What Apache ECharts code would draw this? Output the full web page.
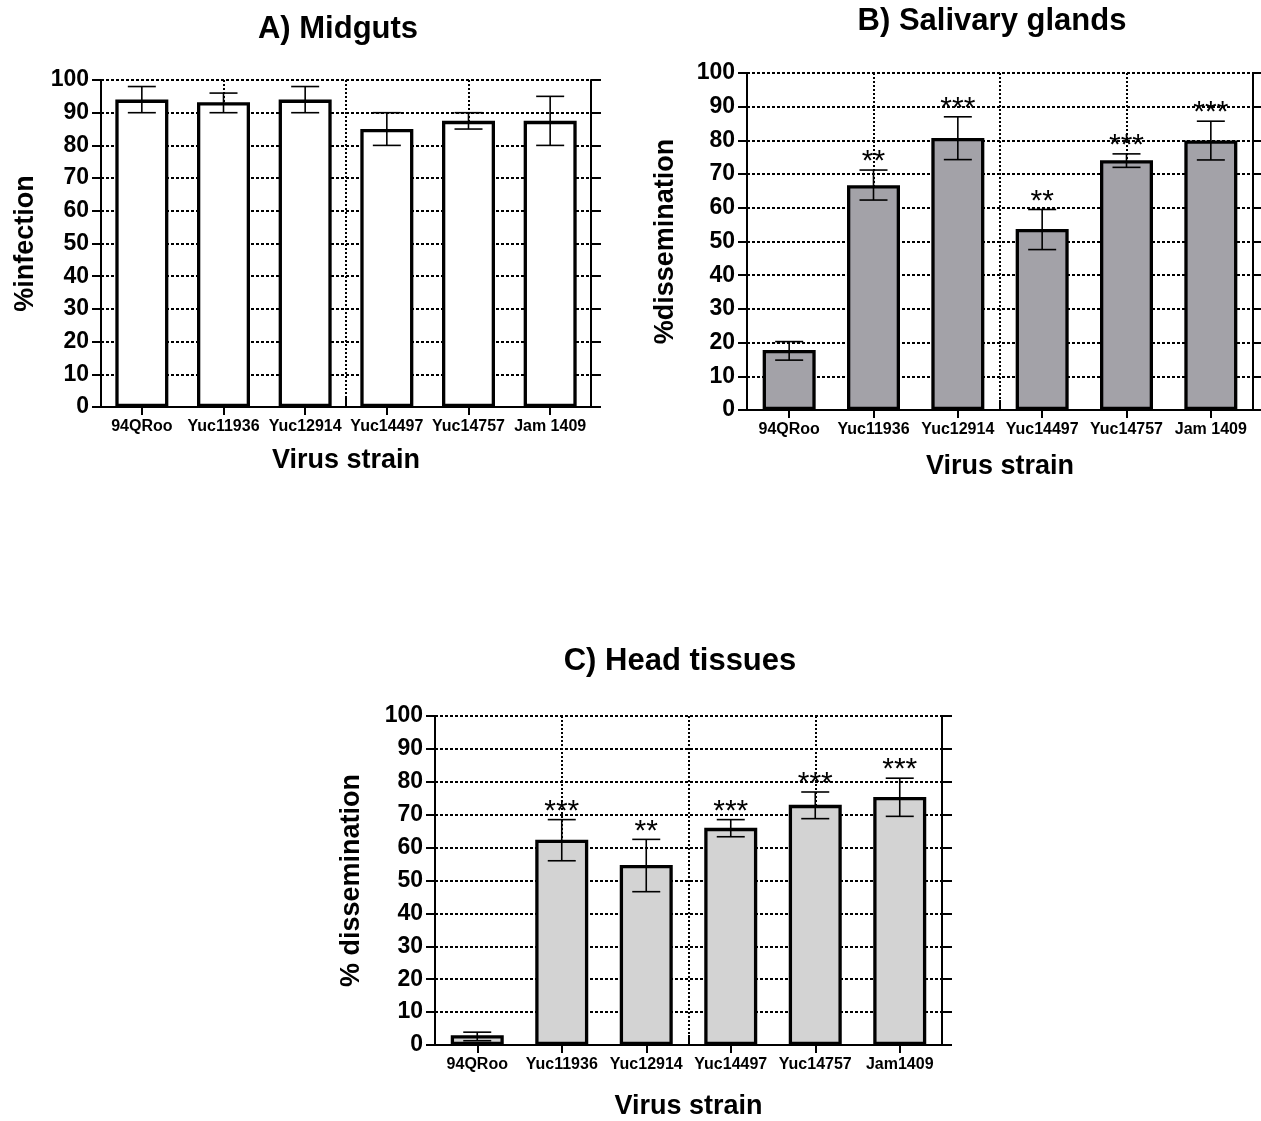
<!DOCTYPE html>
<html>
<head>
<meta charset="utf-8">
<script src="https://cdn.jsdelivr.net/npm/echarts@6.0.0/dist/echarts.min.js"></script>
<style>
  html, body { margin: 0; padding: 0; background: #fff; }
  #chart { width: 1261px; height: 1121px; }
</style>
</head>
<body>
<div id="chart"></div>
<script>
// categories
var strainsAB = ['94QRoo', 'Yuc11936', 'Yuc12914', 'Yuc14497', 'Yuc14757', 'Jam 1409'];
var strainsC = ['94QRoo', 'Yuc11936', 'Yuc12914', 'Yuc14497', 'Yuc14757', 'Jam1409'];

// A) midguts - % infection
var midgutMean = [94, 93.2, 94, 85, 87.5, 87.5];
var midgutLow = [90, 90, 90, 80, 85, 80];
var midgutHigh = [98, 96, 98, 90, 90, 95];
var midgutStars = ['', '', '', '', '', ''];

// B) salivary glands - % dissemination
var salivaMean = [17.8, 66.7, 80.7, 53.7, 74.1, 80];
var salivaLow = [14.8, 62.3, 74.3, 47.6, 72, 74.2];
var salivaHigh = [20.3, 71.2, 87, 59.5, 76, 85.7];
var salivaStars = ['', '**', '***', '**', '***', '***'];

// C) head tissues - % dissemination
var headMean = [3, 62.4, 54.7, 66, 73, 75.4];
var headLow = [1.3, 56, 46.6, 63.3, 68.8, 69.5];
var headHigh = [3.9, 68.5, 62.5, 68.5, 76.9, 81.1];
var headStars = ['', '***', '**', '***', '***', '***'];

// y scale
var yMin = 0, yMax = 100, yStep = 10;

var FONT = 'Liberation Sans, Arial, sans-serif';

var panels = [
  { title: 'A) Midguts', yName: '%infection', cats: strainsAB, mean: midgutMean, low: midgutLow, high: midgutHigh, stars: midgutStars,
    fill: '#ffffff', grid: { left: 101, top: 80, width: 490, height: 327 }, titleX: 338, titleY: 29, yGap: 62, xGap: 40 },
  { title: 'B) Salivary glands', yName: '%dissemination', cats: strainsAB, mean: salivaMean, low: salivaLow, high: salivaHigh, stars: salivaStars,
    fill: '#a3a2a8', grid: { left: 747, top: 73, width: 506, height: 337 }, titleX: 992, titleY: 21, yGap: 68, xGap: 43 },
  { title: 'C) Head tissues', yName: '% dissemination', cats: strainsC, mean: headMean, low: headLow, high: headHigh, stars: headStars,
    fill: '#d3d3d3', grid: { left: 435, top: 716, width: 507, height: 338 }, titleX: 680, titleY: 661, yGap: 70, xGap: 48 }
];

function errItem(p) {
  return function (params, api) {
    var i = api.value(0);
    var top = api.coord([i, p.high[i]]);
    var bot = api.coord([i, p.low[i]]);
    var half = 14;
    var st = { stroke: '#000', lineWidth: 1.6 };
    var kids = [
      { type: 'line', shape: { x1: top[0], y1: top[1], x2: bot[0], y2: bot[1] }, style: st },
      { type: 'line', shape: { x1: top[0] - half, y1: top[1], x2: top[0] + half, y2: top[1] }, style: st },
      { type: 'line', shape: { x1: bot[0] - half, y1: bot[1], x2: bot[0] + half, y2: bot[1] }, style: st }
    ];
    if (p.stars[i]) {
      kids.push({
        type: 'text', x: top[0], y: top[1] - 8,
        style: { text: p.stars[i], fill: '#000', font: 'normal 30px ' + FONT,
          textAlign: 'center', textVerticalAlign: 'middle', align: 'center', verticalAlign: 'middle' }
      });
    }
    return { type: 'group', children: kids };
  };
}

var grids = [], xAxes = [], yAxes = [], series = [], graphics = [];

panels.forEach(function (p, k) {
  grids.push(p.grid);
  var axLine = { show: true, lineStyle: { color: '#000', width: 2 } };
  // bottom category axis
  xAxes.push({
    type: 'category', gridIndex: k, data: p.cats, position: 'bottom',
    axisLine: axLine,
    axisTick: { show: true, alignWithLabel: true, length: 8, lineStyle: { color: '#000', width: 2 } },
    axisLabel: { color: '#000', fontFamily: FONT, fontWeight: 'bold', fontSize: 16, margin: 12, interval: 0 },
    name: 'Virus strain', nameLocation: 'middle', nameGap: p.xGap,
    nameTextStyle: { color: '#000', fontFamily: FONT, fontWeight: 'bold', fontSize: 27 },
    splitLine: { show: false }
  });
  // top frame with vertical dotted lines at quarters
  xAxes.push({
    type: 'value', gridIndex: k, position: 'top', min: 0, max: 4, interval: 1,
    axisLine: axLine,
    axisTick: { show: true, length: 10, lineStyle: { color: '#000', width: 2 } },
    axisLabel: { show: false },
    splitLine: { show: true, lineStyle: { color: '#000', width: 2, type: [2, 2] } }
  });
  // left value axis
  yAxes.push({
    type: 'value', gridIndex: k, position: 'left', min: yMin, max: yMax, interval: yStep,
    axisLine: axLine,
    axisTick: { show: true, length: 9, lineStyle: { color: '#000', width: 2 } },
    axisLabel: { color: '#000', fontFamily: FONT, fontWeight: 'bold', fontSize: 23, margin: 12 },
    splitLine: { show: true, lineStyle: { color: '#000', width: 2, type: [3, 2] } },
    name: p.yName, nameLocation: 'middle', nameRotate: 90, nameGap: p.yGap,
    nameTextStyle: { color: '#000', fontFamily: FONT, fontWeight: 'bold', fontSize: 27 }
  });
  // right frame
  yAxes.push({
    type: 'value', gridIndex: k, position: 'right', min: yMin, max: yMax, interval: yStep,
    axisLine: axLine,
    axisTick: { show: true, length: 10, lineStyle: { color: '#000', width: 2 } },
    axisLabel: { show: false },
    splitLine: { show: false }
  });

  series.push({
    type: 'bar', xAxisIndex: 2 * k, yAxisIndex: 2 * k, data: p.mean, barWidth: 53,
    itemStyle: { color: p.fill, borderColor: '#000', borderWidth: 3.3 },
    silent: true, z: 3
  });
  series.push({
    type: 'custom', xAxisIndex: 2 * k, yAxisIndex: 2 * k,
    data: p.cats.map(function (c, i) { return [i, p.low[i], p.high[i]]; }),
    encode: { x: 0, y: [1, 2] },
    renderItem: errItem(p), silent: true, z: 5
  });

  graphics.push({
    type: 'text', x: p.titleX, y: p.titleY,
    style: { text: p.title, fill: '#000', font: 'bold 31px ' + FONT,
      textAlign: 'center', textVerticalAlign: 'middle', align: 'center', verticalAlign: 'middle' }
  });
});

var chart = echarts.init(document.getElementById('chart'));
chart.setOption({
  animation: false,
  backgroundColor: '#fff',
  textStyle: { fontFamily: FONT },
  grid: grids,
  xAxis: xAxes,
  yAxis: yAxes,
  series: series,
  graphic: graphics
});
</script>
</body>
</html>
